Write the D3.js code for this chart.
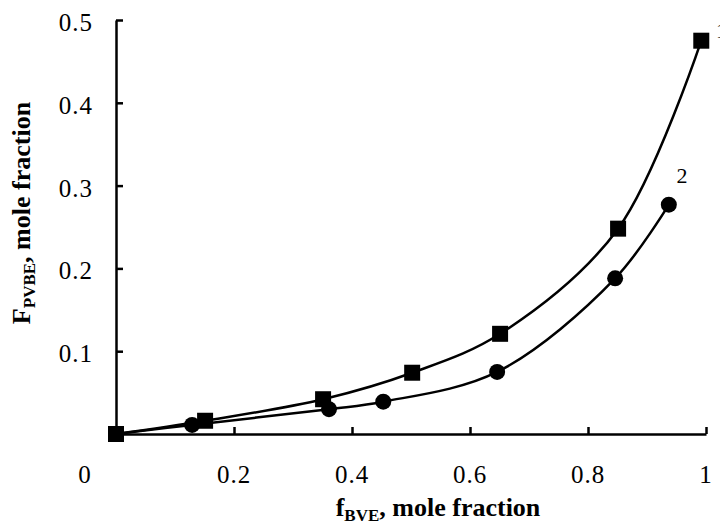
<!DOCTYPE html>
<html>
<head>
<meta charset="utf-8">
<script src="https://cdn.jsdelivr.net/npm/d3@7"></script>
<style>
  html, body { margin: 0; padding: 0; background: #fff; }
  svg { display: block; }
  text { font-family: "Liberation Serif", "Times New Roman", serif; fill: #000; }
</style>
</head>
<body>
<svg id="chart" width="720" height="524"></svg>
<script>
// series 1 (squares) and series 2 (circles)
const xSquares = [0, 0.151, 0.351, 0.502, 0.651, 0.851, 0.992];
const ySquares = [0, 0.016, 0.042, 0.074, 0.121, 0.248, 0.475];
const xCircles = [0, 0.129, 0.361, 0.453, 0.646, 0.846, 0.937];
const yCircles = [0, 0.011, 0.030, 0.039, 0.075, 0.188, 0.277];

const xTicks = [0, 0.2, 0.4, 0.6, 0.8, 1];
const yTicks = [0.1, 0.2, 0.3, 0.4, 0.5];
const xTickLabels = ['0', '0.2', '0.4', '0.6', '0.8', '1'];
const yTickLabels = ['0.1', '0.2', '0.3', '0.4', '0.5'];

const svg = d3.select('#chart');

// plot frame
const x = d3.scaleLinear().domain([0, 1]).range([116, 706]);
const y = d3.scaleLinear().domain([0, 0.5]).range([434, 20]);

// axes, ticks point inward
svg.append('g')
  .attr('transform', `translate(0,${y(0)})`)
  .call(d3.axisBottom(x)
    .tickValues(xTicks.slice(1))
    .tickSizeInner(-7)
    .tickSizeOuter(0)
    .tickFormat(''));

svg.append('g')
  .attr('transform', `translate(${x(0)},0)`)
  .call(d3.axisLeft(y)
    .tickValues(yTicks)
    .tickSizeInner(-7)
    .tickSizeOuter(0)
    .tickFormat(''));

svg.selectAll('.domain, .tick line')
  .attr('stroke', '#000')
  .attr('stroke-width', 2.5);

// tick labels
svg.append('g')
  .selectAll('text')
  .data(xTicks)
  .enter()
  .append('text')
  .attr('x', (d, i) => i === 0 ? x(d) - 31 : x(d))
  .attr('y', 483)
  .attr('text-anchor', 'middle')
  .attr('font-size', 25)
  .attr('letter-spacing', 1)
  .text((d, i) => xTickLabels[i]);

svg.append('g')
  .selectAll('text')
  .data(yTicks)
  .enter()
  .append('text')
  .attr('x', 93)
  .attr('y', d => y(d) + 11)
  .attr('text-anchor', 'end')
  .attr('font-size', 25)
  .attr('letter-spacing', 1)
  .text((d, i) => yTickLabels[i]);

// axis titles
const xTitle = svg.append('text')
  .attr('x', 438)
  .attr('y', 516)
  .attr('text-anchor', 'middle')
  .attr('font-size', 26)
  .attr('font-weight', 'bold');
xTitle.append('tspan').text('f');
xTitle.append('tspan').attr('font-size', 17).attr('dy', 5).text('BVE');
xTitle.append('tspan').attr('dy', -5).text(', mole fraction');

const yTitle = svg.append('text')
  .attr('transform', 'translate(30,213) rotate(-90)')
  .attr('text-anchor', 'middle')
  .attr('font-size', 26)
  .attr('font-weight', 'bold');
yTitle.append('tspan').text('F');
yTitle.append('tspan').attr('font-size', 17).attr('dy', 5).text('PVBE');
yTitle.append('tspan').attr('dy', -5).text(', mole fraction');

// curves
const line = d3.line()
  .x(d => x(d[0]))
  .y(d => y(d[1]))
  .curve(d3.curveCatmullRom.alpha(0.5));

const sq = xSquares.map((v, i) => [v, ySquares[i]]);
const ci = xCircles.map((v, i) => [v, yCircles[i]]);

svg.append('path')
  .datum(ci)
  .attr('d', line)
  .attr('fill', 'none')
  .attr('stroke', '#000')
  .attr('stroke-width', 2.5);

svg.append('path')
  .datum(sq)
  .attr('d', line)
  .attr('fill', 'none')
  .attr('stroke', '#000')
  .attr('stroke-width', 2.5);

// markers
svg.append('g')
  .selectAll('circle')
  .data(ci)
  .enter()
  .append('circle')
  .attr('cx', d => x(d[0]))
  .attr('cy', d => y(d[1]))
  .attr('r', 8)
  .attr('fill', '#000');

const s = 16;
svg.append('g')
  .selectAll('rect')
  .data(sq)
  .enter()
  .append('rect')
  .attr('x', d => x(d[0]) - s / 2)
  .attr('y', d => y(d[1]) - s / 2)
  .attr('width', s)
  .attr('height', s)
  .attr('fill', '#000');

// curve labels ("1" sits on the right edge, mostly cut off as in the original)
svg.append('text')
  .attr('x', 682)
  .attr('y', 183)
  .attr('text-anchor', 'middle')
  .attr('font-size', 22)
  .text('2');

svg.append('text')
  .attr('x', 716)
  .attr('y', 38)
  .attr('font-size', 22)
  .text('1');
</script>
</body>
</html>
